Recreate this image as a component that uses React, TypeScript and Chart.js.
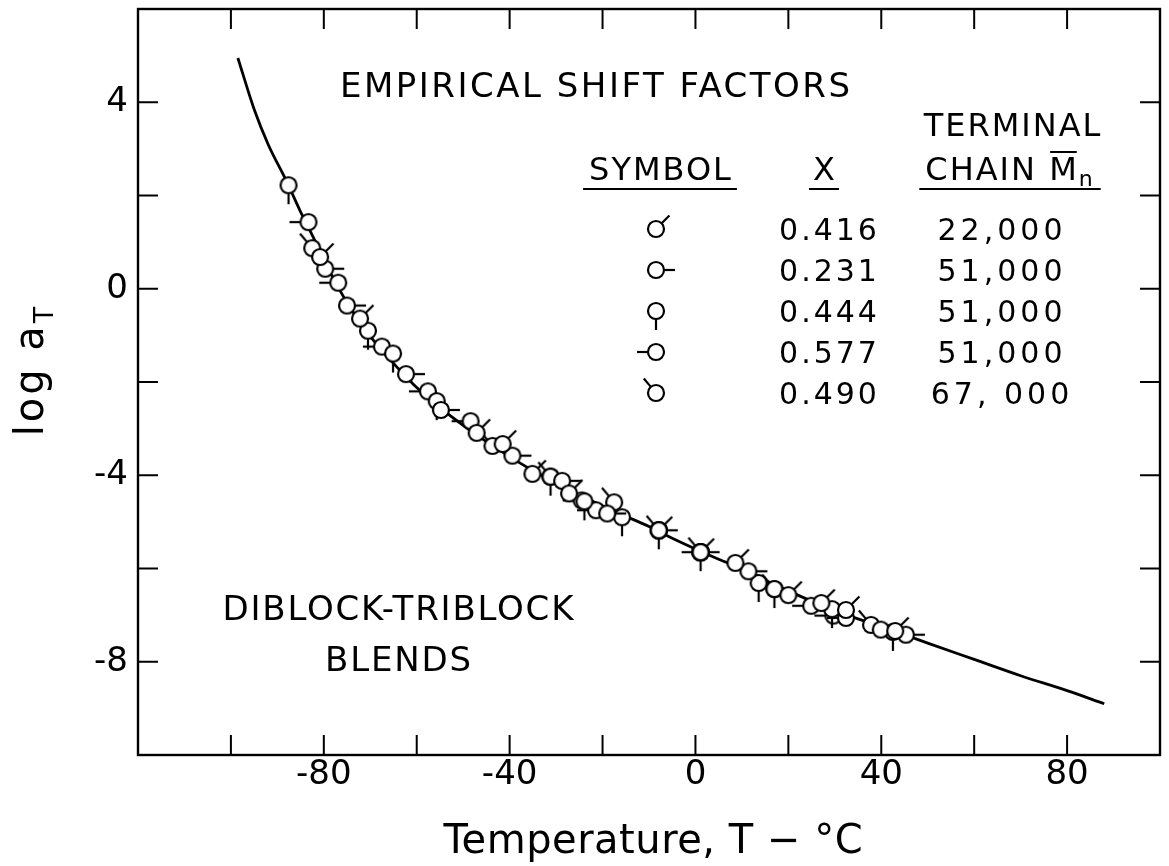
import React, { useEffect, useRef } from "react";
import { Chart, registerables } from "chart.js";

Chart.register(...registerables);

const FONT = '"DejaVu Sans"';

// Smooth fitted curve through all blends
const curveT = [-98.5, -95, -92, -88, -85, -82, -80, -77, -75, -72, -70, -67, -65, -62, -60, -57, -55, -50, -45, -40, -35, -30, -25, -20, -15, -10, -5, 0, 5, 10, 15, 20, 25, 30, 35, 40, 45, 50, 60, 70, 80, 88];
const curveLogA = [4.95, 3.85, 3.1, 2.3, 1.65, 1.05, 0.62, 0.05, -0.3, -0.75, -1.02, -1.38, -1.6, -1.92, -2.12, -2.38, -2.55, -2.93, -3.28, -3.6, -3.9, -4.17, -4.42, -4.66, -4.88, -5.1, -5.35, -5.58, -5.8, -6.0, -6.25, -6.48, -6.7, -6.9, -7.08, -7.25, -7.42, -7.6, -7.95, -8.3, -8.62, -8.9];

// Measured shift factors, one pair of arrays per blend
const t416 = [-80.8, -72.2, -47.1, -41.5, -35.1, -27.2, -7.9, 1.1, 8.6, 20.0, 27.1, 32.4, 43.0];
const log416 = [0.68, -0.64, -3.09, -3.33, -3.97, -4.39, -5.18, -5.65, -5.88, -6.57, -6.74, -6.89, -7.34];

const t231 = [-79.7, -75.0, -62.3, -54.8, -39.4, -28.7, -19.0, -7.9, 1.1, 11.4, 39.9, 45.3];
const log231 = [0.43, -0.36, -1.83, -2.6, -3.58, -4.12, -4.82, -5.18, -5.65, -6.06, -7.31, -7.42];

const t444 = [-87.6, -70.5, -65.1, -55.7, -31.2, -23.9, -15.8, -7.9, 1.1, 13.6, 17.0, 29.4, 42.5];
const log444 = [2.22, -0.9, -1.39, -2.41, -4.03, -4.56, -4.9, -5.18, -5.65, -6.31, -6.44, -6.87, -7.36];

const t577 = [-83.3, -76.9, -67.5, -57.6, -48.4, -24.5, -21.4, 1.1, 24.9, 29.7, 32.4];
const log577 = [1.43, 0.13, -1.24, -2.2, -2.84, -4.54, -4.75, -5.65, -6.8, -7.01, -7.06];

const t490 = [-82.5, -43.7, -31.2, -17.5, -7.9, 1.1, 17.0, 37.8];
const log490 = [0.87, -3.37, -4.03, -4.58, -5.18, -5.65, -6.44, -7.21];

// Legend table rows
const xFractions = ["0.416", "0.231", "0.444", "0.577", "0.490"];
const chainMn = ["22,000", "51,000", "51,000", "51,000", "67, 000"];
const stemAngles = [45, 0, -90, 180, 130];

const xTickLabels = [-80, -40, 0, 40, 80];
const yTickLabels = [4, 0, -4, -8];

function makeSymbol(angleDeg: number): HTMLCanvasElement {
  const c = document.createElement("canvas");
  c.width = 46;
  c.height = 46;
  const g = c.getContext("2d")!;
  const r = 8;
  const cx = 23;
  const cy = 23;
  const a = (angleDeg * Math.PI) / 180;
  g.strokeStyle = "#000";
  g.lineWidth = 2.2;
  g.beginPath();
  g.moveTo(cx + Math.cos(a) * r, cy - Math.sin(a) * r);
  g.lineTo(cx + Math.cos(a) * (r + 11), cy - Math.sin(a) * (r + 11));
  g.stroke();
  g.beginPath();
  g.arc(cx, cy, r, 0, Math.PI * 2);
  g.fillStyle = "#fff";
  g.fill();
  g.stroke();
  return c;
}

function drawText(
  ctx: CanvasRenderingContext2D,
  s: string,
  x: number,
  y: number,
  size: number,
  align: "left" | "center" | "right",
  spacing = 0
) {
  ctx.font = `${size}px ${FONT}`;
  (ctx as any).letterSpacing = `${spacing}px`;
  ctx.textAlign = "left";
  ctx.textBaseline = "alphabetic";
  const w = ctx.measureText(s).width - spacing;
  let x0 = x;
  if (align === "center") x0 = x - w / 2;
  if (align === "right") x0 = x - w;
  ctx.fillText(s, x0, y);
  (ctx as any).letterSpacing = "0px";
  return { x0, w };
}

export default function App() {
  const ref = useRef<HTMLCanvasElement | null>(null);

  useEffect(() => {
    const canvas = ref.current;
    if (!canvas) return;

    const symbols = stemAngles.map((a) => makeSymbol(a));
    const series = [
      { t: t416, v: log416 },
      { t: t231, v: log231 },
      { t: t444, v: log444 },
      { t: t577, v: log577 },
      { t: t490, v: log490 },
    ];

    const framePlugin = {
      id: "frameAndNotes",
      afterDraw(chart: any) {
        const { ctx, chartArea, scales } = chart;
        const xs = scales.x;
        const ys = scales.y;
        const { left, right, top, bottom } = chartArea;
        ctx.save();
        ctx.strokeStyle = "#000";
        ctx.fillStyle = "#000";

        // frame
        ctx.lineWidth = 2.4;
        ctx.strokeRect(left, top, right - left, bottom - top);

        // inward ticks on all four sides
        ctx.lineWidth = 2;
        const tl = 20;
        xs.ticks.forEach((tk: any) => {
          const px = xs.getPixelForValue(tk.value);
          if (px <= left + 1 || px >= right - 1) return;
          ctx.beginPath();
          ctx.moveTo(px, bottom);
          ctx.lineTo(px, bottom - tl);
          ctx.moveTo(px, top);
          ctx.lineTo(px, top + tl);
          ctx.stroke();
        });
        ys.ticks.forEach((tk: any) => {
          const py = ys.getPixelForValue(tk.value);
          if (py <= top + 1 || py >= bottom - 1) return;
          ctx.beginPath();
          ctx.moveTo(left, py);
          ctx.lineTo(left + tl, py);
          ctx.moveTo(right, py);
          ctx.lineTo(right - tl, py);
          ctx.stroke();
        });

        // axis titles
        drawText(ctx, "Temperature, T \u2212 \u00B0C", (left + right) / 2 + 4, 853, 40, "center", 0.5);

        ctx.save();
        ctx.translate(43, 370);
        ctx.rotate(-Math.PI / 2);
        ctx.font = `40px ${FONT}`;
        (ctx as any).letterSpacing = "3px";
        const w1 = ctx.measureText("log a").width;
        ctx.font = `27px ${FONT}`;
        const w2 = ctx.measureText("T").width;
        const x0 = -(w1 + w2) / 2;
        ctx.font = `40px ${FONT}`;
        ctx.fillText("log a", x0, 0);
        ctx.font = `27px ${FONT}`;
        ctx.fillText("T", x0 + w1, 10);
        (ctx as any).letterSpacing = "0px";
        ctx.restore();

        // notes inside the plot
        drawText(ctx, "EMPIRICAL SHIFT FACTORS", 340, 97, 34, "left", 2.5);
        drawText(ctx, "DIBLOCK-TRIBLOCK", 398, 620, 34, "center", 1.8);
        drawText(ctx, "BLENDS", 398, 671, 34, "center", 1.8);

        // legend table
        const symX = 656;
        const xCol = 828;
        const mnCol = 1000;
        const headY = 180;
        const lineY = 189;
        drawText(ctx, "TERMINAL", 1012, 136, 32, "center", 2);
        const sym = drawText(ctx, "SYMBOL", symX + 4, headY, 32, "center", 2);
        const xh = drawText(ctx, "X", xCol - 4, headY, 32, "center", 0);

        // "CHAIN Mn" with bar over M and subscript n
        ctx.font = `32px ${FONT}`;
        (ctx as any).letterSpacing = "2px";
        const wChain = ctx.measureText("CHAIN ").width;
        const wM = ctx.measureText("M").width;
        ctx.font = `22px ${FONT}`;
        const wn = ctx.measureText("n").width;
        const totalMn = wChain + wM + wn;
        const cx0 = mnCol + 10 - totalMn / 2;
        ctx.font = `32px ${FONT}`;
        ctx.fillText("CHAIN ", cx0, headY);
        ctx.fillText("M", cx0 + wChain, headY);
        ctx.font = `22px ${FONT}`;
        ctx.fillText("n", cx0 + wChain + wM, headY + 6);
        (ctx as any).letterSpacing = "0px";
        ctx.lineWidth = 2;
        ctx.beginPath();
        ctx.moveTo(cx0 + wChain + 1, headY - 28);
        ctx.lineTo(cx0 + wChain + wM - 2, headY - 28);
        ctx.stroke();

        // header underlines
        ctx.lineWidth = 2;
        ctx.beginPath();
        ctx.moveTo(sym.x0 - 6, lineY);
        ctx.lineTo(sym.x0 + sym.w + 6, lineY);
        ctx.moveTo(xh.x0 - 4, lineY);
        ctx.lineTo(xh.x0 + xh.w + 4, lineY);
        ctx.moveTo(cx0 - 6, lineY);
        ctx.lineTo(cx0 + totalMn + 6, lineY);
        ctx.stroke();

        const rowY = [229, 270, 311, 352, 393];
        rowY.forEach((ry, i) => {
          ctx.drawImage(symbols[i], symX - 23, ry - 23);
          drawText(ctx, xFractions[i], xCol, ry + 11, 30, "center", 3);
          drawText(ctx, chainMn[i], mnCol, ry + 11, 30, "center", 4);
        });

        ctx.restore();
      },
    };

    const chart = new Chart(canvas, {
      type: "scatter",
      data: {
        datasets: [
          {
            type: "line",
            data: curveT.map((t, i) => ({ x: t, y: curveLogA[i] })),
            borderColor: "#000",
            borderWidth: 2.8,
            pointRadius: 0,
            fill: false,
            tension: 0.4,
            cubicInterpolationMode: "monotone",
            order: 2,
          } as any,
          ...series.map((s, k) => ({
            data: s.t.map((t, i) => ({ x: t, y: s.v[i] })),
            pointStyle: symbols[k],
            pointRadius: 8,
            showLine: false,
            order: 1,
          })),
        ],
      },
      options: {
        animation: false,
        responsive: false,
        maintainAspectRatio: false,
        layout: { padding: { left: 0, right: 6, top: 5, bottom: 0 } },
        plugins: {
          legend: { display: false },
          tooltip: { enabled: false },
        },
        scales: {
          x: {
            type: "linear",
            min: -120,
            max: 100,
            grid: { display: false, drawTicks: false },
            border: { display: false },
            ticks: {
              stepSize: 20,
              autoSkip: false,
              maxRotation: 0,
              padding: 0,
              color: "#000",
              font: { family: "DejaVu Sans", size: 34 },
              callback: (v: any) => (xTickLabels.includes(Number(v)) ? String(v) : ""),
            },
            afterFit: (s: any) => {
              s.height = 111;
              s.paddingLeft = 0;
              s.paddingRight = 0;
            },
          },
          y: {
            type: "linear",
            min: -10,
            max: 6,
            grid: { display: false, drawTicks: false },
            border: { display: false },
            ticks: {
              stepSize: 2,
              autoSkip: false,
              padding: 10,
              color: "#000",
              font: { family: "DejaVu Sans", size: 34 },
              callback: (v: any) => (yTickLabels.includes(Number(v)) ? String(v) : ""),
            },
            afterFit: (s: any) => {
              s.width = 138;
              s.paddingTop = 0;
              s.paddingBottom = 0;
            },
          },
        },
      },
      plugins: [framePlugin],
    });

    return () => chart.destroy();
  }, []);

  return (
    <div style={{ position: "absolute", left: 0, top: 0, width: 1169, height: 866, background: "#fff" }}>
      <canvas ref={ref} width={1169} height={866} style={{ display: "block" }} />
    </div>
  );
}
